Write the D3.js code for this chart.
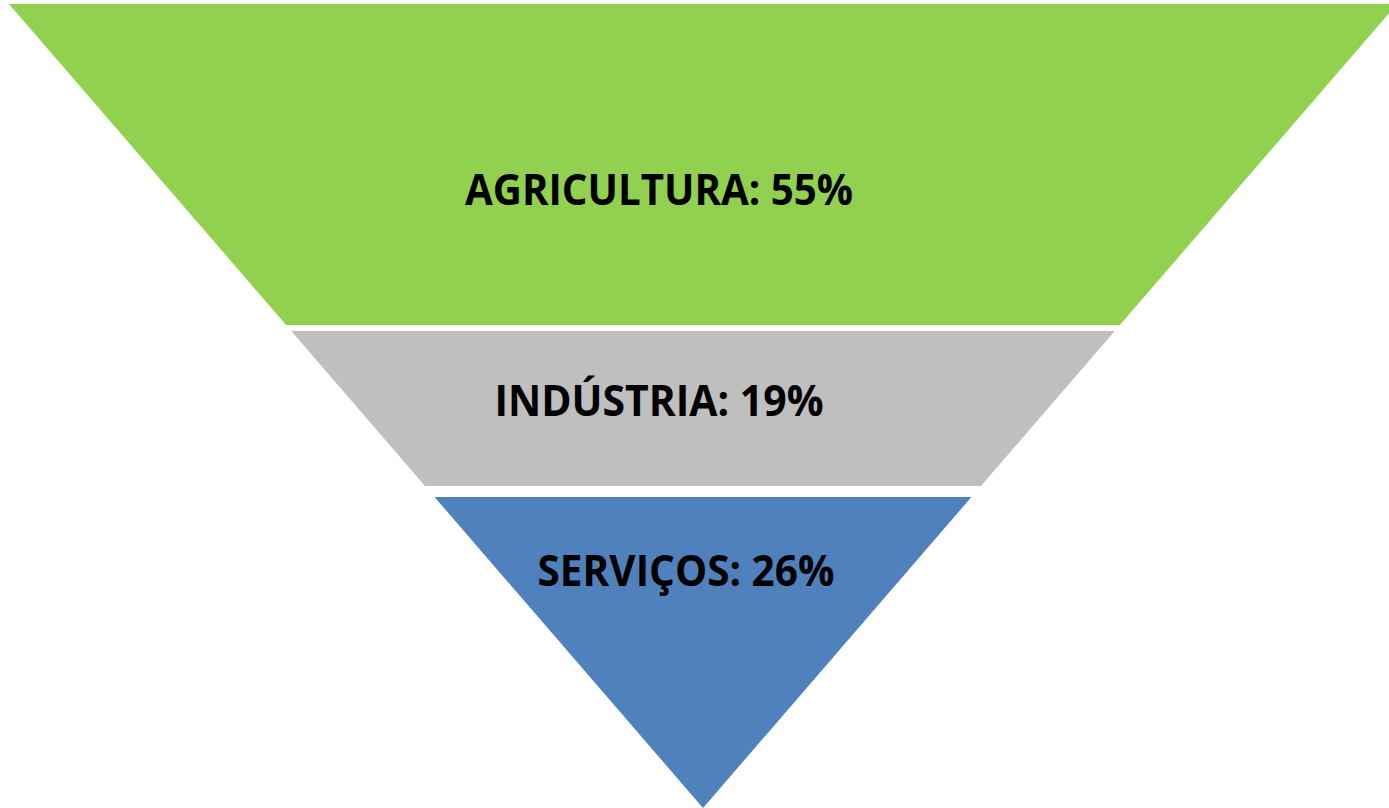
<!DOCTYPE html>
<html>
<head>
<meta charset="utf-8">
<script src="https://cdn.jsdelivr.net/npm/d3@7"></script>
<style>
  html, body { margin: 0; padding: 0; background: #fff; }
  svg { display: block; }
</style>
</head>
<body>
<svg id="funnel"></svg>
<script>
// Data
const sectors = ["AGRICULTURA", "INDÚSTRIA", "SERVIÇOS"];
const shares = [55, 19, 26];
const colors = ["#92D050", "#BFBFBF", "#4F81BD"];

// Layout: band extents as fraction of funnel depth (0 = top, 1 = apex)
const bandStops = [[0, 0.3993], [0.4067, 0.5995], [0.6132, 1]];
// label placement: horizontal offset from centre, baseline (depth fraction), text width
const labelDx = [-44, -44, -17];
const labelDepth = [0.2500, 0.5124, 0.7239];
const labelWidth = [388, 329, 297];

const width = 1389;
const height = 808;
const cx = 703;

const svg = d3.select("#funnel")
  .attr("width", width)
  .attr("height", height);

// depth -> y
const y = d3.scaleLinear().domain([0, 1]).range([4, 808]);
// y -> half width of the funnel
const halfW = d3.scaleLinear().domain([808, 4]).range([0, 694]);

const bands = sectors.map((s, i) => ({
  name: s, value: shares[i], color: colors[i],
  y0: y(bandStops[i][0]), y1: y(bandStops[i][1])
}));

svg.append("g").selectAll("path")
  .data(bands)
  .enter()
  .append("path")
  .attr("fill", d => d.color)
  .attr("d", d => {
    const a = halfW(d.y0), b = halfW(d.y1);
    return "M" + (cx - a) + "," + d.y0 +
      "L" + (cx + a) + "," + d.y0 +
      "L" + (cx + b) + "," + d.y1 +
      "L" + (cx - b) + "," + d.y1 + "Z";
  });

svg.append("g").selectAll("text")
  .data(bands)
  .enter()
  .append("text")
  .attr("x", (d, i) => cx + labelDx[i])
  .attr("y", (d, i) => y(labelDepth[i]))
  .attr("text-anchor", "middle")
  .attr("textLength", (d, i) => labelWidth[i])
  .attr("lengthAdjust", "spacingAndGlyphs")
  .style("font-family", "'Open Sans', sans-serif")
  .style("font-weight", "bold")
  .style("font-size", "43.5px")
  .style("fill", "#000")
  .text(d => d.name + ": " + d.value + "%");
</script>
</body>
</html>
